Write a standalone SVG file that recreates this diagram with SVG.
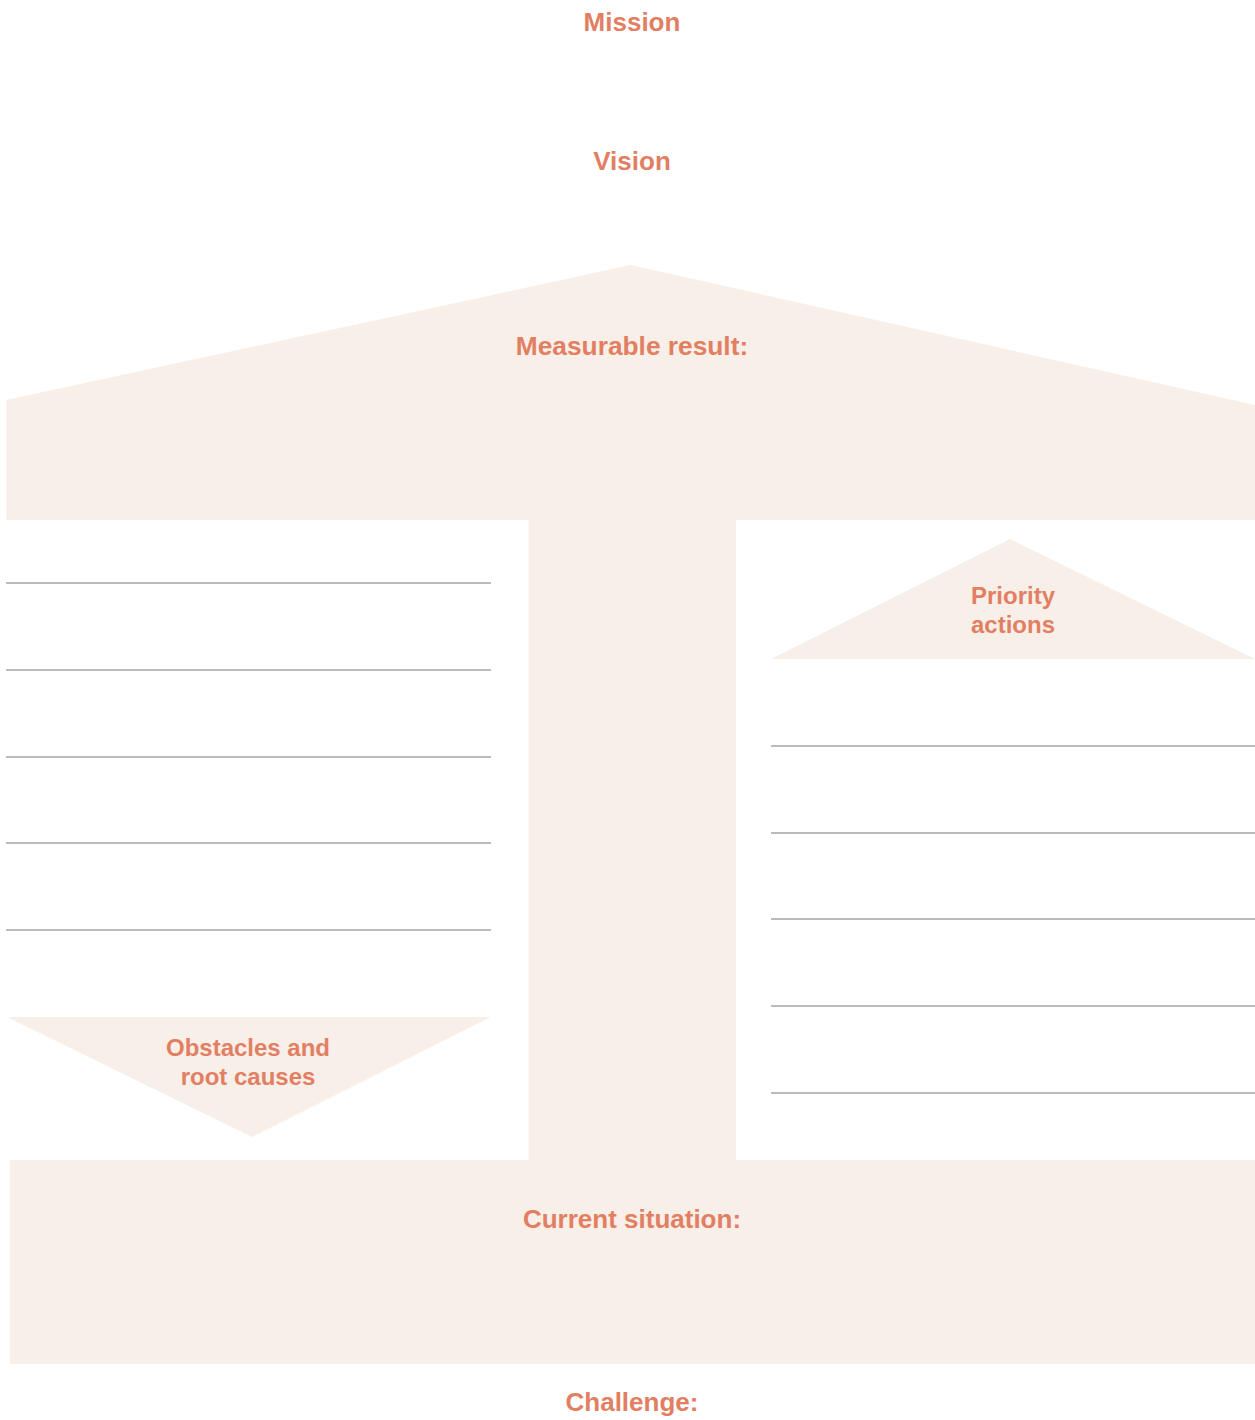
<svg xmlns="http://www.w3.org/2000/svg" width="1255" height="1420" viewBox="0 0 1255 1420">
<style>
.shape{fill:#F8EFE9;}
.lbl{font-family:"Liberation Sans",Arial,Helvetica,sans-serif;font-weight:bold;font-size:26px;fill:#E27F63;text-anchor:middle;}
.sm{font-size:24px;}
.rule{stroke:#A4A4A8;stroke-width:1.6;fill:none;}
</style>
<rect width="1255" height="1420" fill="#FFFFFF"/>
<g id="mission"><text class="lbl" x="632" y="31">Mission</text></g>
<g id="vision"><text class="lbl" x="632" y="170">Vision</text></g>
<g id="measurable-result">
<polygon class="shape" points="6,400 631,265 1255,405 1255,520 6,520"/>
<text class="lbl" x="632" y="355" style="font-size:26.3px">Measurable result:</text>
</g>
<g id="stem"><rect class="shape" x="528.5" y="519" width="207.5" height="642"/></g>
<g id="current-situation">
<rect class="shape" x="10" y="1160" width="1245" height="204"/>
<text class="lbl" x="632" y="1228">Current situation:</text>
</g>
<g id="priority-actions">
<polygon class="shape" points="771,659 1010,539 1255,659"/>
<text class="lbl sm" x="1013" y="604">Priority</text>
<text class="lbl sm" x="1013" y="633">actions</text>
</g>
<g id="obstacles">
<polygon class="shape" points="7,1017 491,1017 252,1137"/>
<text class="lbl sm" x="248" y="1056">Obstacles and</text>
<text class="lbl sm" x="248" y="1085">root causes</text>
</g>
<g id="challenge"><text class="lbl" x="632" y="1411">Challenge:</text></g>
<g id="connectors">
<line class="rule" x1="6" y1="583" x2="491" y2="583"/>
<line class="rule" x1="6" y1="670" x2="491" y2="670"/>
<line class="rule" x1="6" y1="757" x2="491" y2="757"/>
<line class="rule" x1="6" y1="843" x2="491" y2="843"/>
<line class="rule" x1="6" y1="930" x2="491" y2="930"/>
<line class="rule" x1="771" y1="746" x2="1255" y2="746"/>
<line class="rule" x1="771" y1="833" x2="1255" y2="833"/>
<line class="rule" x1="771" y1="919" x2="1255" y2="919"/>
<line class="rule" x1="771" y1="1006" x2="1255" y2="1006"/>
<line class="rule" x1="771" y1="1093" x2="1255" y2="1093"/>
</g>
</svg>
